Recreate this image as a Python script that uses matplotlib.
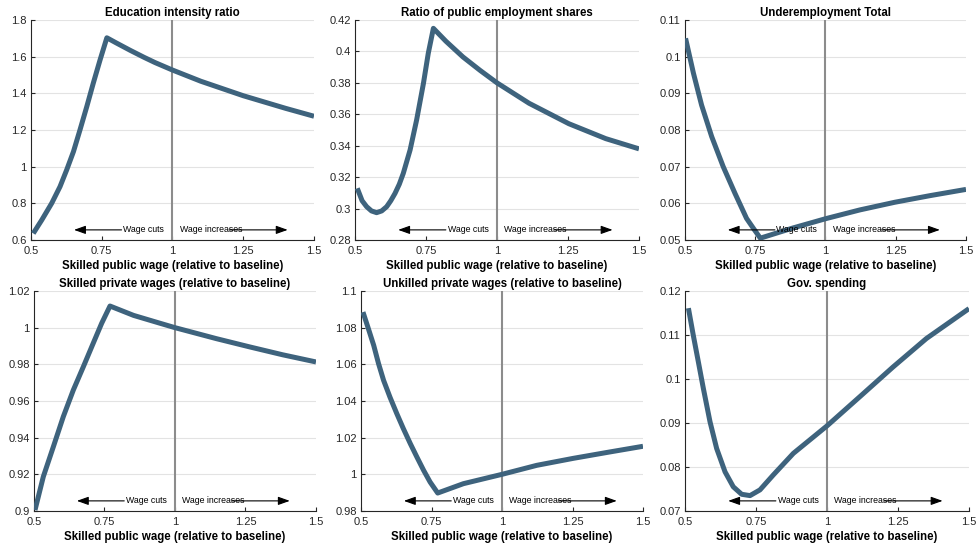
import numpy as np
import matplotlib
matplotlib.use("Agg")
import matplotlib.pyplot as plt
from matplotlib.ticker import FuncFormatter

plt.rcParams['font.family'] = ['Liberation Sans', 'DejaVu Sans']

# values (x = skilled public wage relative to baseline)
edu_x = [0.508, 0.538, 0.573, 0.6025, 0.626, 0.65, 0.673, 0.697, 0.72, 0.744, 0.768,
         0.80, 0.85, 0.90, 0.938, 1.0, 1.1, 1.25, 1.4, 1.5]
edu_y = [0.636, 0.709, 0.80, 0.891, 0.982, 1.082, 1.20, 1.327, 1.455, 1.582, 1.703,
         1.676, 1.635, 1.596, 1.568, 1.527, 1.466, 1.387, 1.318, 1.275]

share_x = [0.508, 0.525, 0.541, 0.558, 0.576, 0.594, 0.6115, 0.626, 0.641, 0.656, 0.670, 0.694,
           0.717, 0.741, 0.758, 0.776, 0.82, 0.88, 0.94, 1.0, 1.113, 1.253, 1.383, 1.5]
share_y = [0.3129, 0.305, 0.3012, 0.2985, 0.2974, 0.2985, 0.3012, 0.305, 0.3097, 0.3155, 0.3224, 0.3373,
           0.3564, 0.3797, 0.3988, 0.4147, 0.4065, 0.3965, 0.3880, 0.3800, 0.367, 0.354, 0.3445, 0.338]

under_x = [0.502, 0.530, 0.559, 0.595, 0.636, 0.678, 0.719, 0.745, 0.768,
           0.885, 0.945, 1.0, 1.122, 1.247, 1.372, 1.5]
under_y = [0.1050, 0.0955, 0.0868, 0.0782, 0.0700, 0.0627, 0.0559, 0.0530, 0.0505,
           0.0533, 0.0546, 0.0558, 0.0582, 0.0603, 0.0621, 0.0638]

skpriv_x = [0.5035, 0.533, 0.5685, 0.604, 0.6395, 0.675, 0.710, 0.740, 0.7695,
            0.853, 0.947, 1.0, 1.147, 1.265, 1.382, 1.5]
skpriv_y = [0.9005, 0.9187, 0.935, 0.9515, 0.966, 0.9787, 0.9915, 1.0024, 1.0118,
            1.0067, 1.0024, 1.0, 0.994, 0.9895, 0.9852, 0.9813]

unpriv_x = [0.507, 0.525, 0.545, 0.562, 0.58, 0.603, 0.627, 0.65, 0.675, 0.698, 0.722, 0.745, 0.772,
            0.863, 1.0, 1.123, 1.252, 1.382, 1.5]
unpriv_y = [1.0885, 1.0800, 1.0704, 1.0605, 1.0513, 1.0420, 1.0331, 1.0250, 1.0167, 1.0095, 1.0022,
            0.9958, 0.9898, 0.9949, 1.0, 1.0049, 1.0087, 1.0122, 1.0153]

gov_x = [0.512, 0.529, 0.547, 0.5645, 0.588, 0.6115, 0.641, 0.670, 0.6995, 0.729, 0.764, 0.811,
         0.8815, 1.001, 1.116, 1.232, 1.35, 1.5]
gov_y = [0.1161, 0.1100, 0.1039, 0.0979, 0.0903, 0.0842, 0.0789, 0.0755, 0.0738, 0.0735, 0.0748, 0.0782,
         0.0831, 0.0894, 0.0960, 0.1027, 0.1092, 0.1160]

titles = ['Education intensity ratio', 'Ratio of public employment shares', 'Underemployment Total',
          'Skilled private wages (relative to baseline)', 'Unkilled private wages (relative to baseline)',
          'Gov. spending']
series = [(edu_x, edu_y), (share_x, share_y), (under_x, under_y),
          (skpriv_x, skpriv_y), (unpriv_x, unpriv_y), (gov_x, gov_y)]
ylims = [(0.6, 1.8), (0.28, 0.42), (0.05, 0.11), (0.9, 1.02), (0.98, 1.1), (0.07, 0.12)]
ysteps = [0.2, 0.02, 0.01, 0.02, 0.02, 0.01]
xticks = [0.5, 0.75, 1.0, 1.25, 1.5]
xlabel = 'Skilled public wage (relative to baseline)'

# axes boxes in pixels: left, right, top, bottom
W, H = 978, 550
boxes = [(31, 314, 20, 240), (355, 639, 20, 240), (685, 966, 20, 240),
         (34, 316, 291, 511), (361, 643, 291, 511), (685, 969, 291, 511)]

line_col = '#3e637d'
ax_col = '#262626'

fig = plt.figure(figsize=(W / 100, H / 100), dpi=100)

for i in range(6):
    l, r, t, b = boxes[i]
    ax = fig.add_axes([l / W, 1 - b / H, (r - l) / W, (b - t) / H])
    x, y = series[i]
    lo, hi = ylims[i]

    ax.axvline(1.0, color='#8c8c8c', lw=1.5, zorder=1)
    ax.plot(x, y, color=line_col, lw=3.6, zorder=3, solid_joinstyle='round', solid_capstyle='butt')

    ax.set_xlim(0.5, 1.5)
    ax.set_ylim(lo, hi)
    ax.set_xticks(xticks)
    ax.set_yticks(np.arange(lo, hi + ysteps[i] / 2, ysteps[i]))
    fmt = FuncFormatter(lambda v, p: '%g' % round(v, 4))
    ax.xaxis.set_major_formatter(fmt)
    ax.yaxis.set_major_formatter(fmt)
    ax.tick_params(direction='in', length=3, width=0.8, labelsize=8, colors=ax_col)
    ax.tick_params(axis='x', pad=4)
    ax.tick_params(axis='y', pad=3)
    ax.grid(axis='y', color='#e3e3e3', lw=0.8)
    ax.set_axisbelow(True)
    for s in ['top', 'right']:
        ax.spines[s].set_visible(False)
    for s in ['left', 'bottom']:
        ax.spines[s].set_color(ax_col)
        ax.spines[s].set_linewidth(0.8)

    ax.set_title(titles[i], fontsize=8.3, fontweight='bold', pad=3, color='black')
    ax.set_xlabel(xlabel, fontsize=8.3, fontweight='bold', labelpad=3, color='black')

    # wage cuts / increases annotation
    ya = 0.046
    trans = ax.get_xaxis_transform()
    head = dict(arrowstyle='-|>,head_length=0.7,head_width=0.25', color='black', lw=0.8,
                mutation_scale=10, shrinkA=0, shrinkB=0)
    ax.annotate('', xy=(0.652, ya), xytext=(0.82, ya), xycoords=trans, textcoords=trans,
                arrowprops=head)
    ax.annotate('', xy=(1.407, ya), xytext=(1.2, ya), xycoords=trans, textcoords=trans,
                arrowprops=head)
    ax.text(0.97, ya, 'Wage cuts', transform=trans, ha='right', va='center', fontsize=6.3)
    ax.text(1.026, ya, 'Wage increases', transform=trans, ha='left', va='center', fontsize=6.3)

fig.savefig('out.png', dpi=100)
